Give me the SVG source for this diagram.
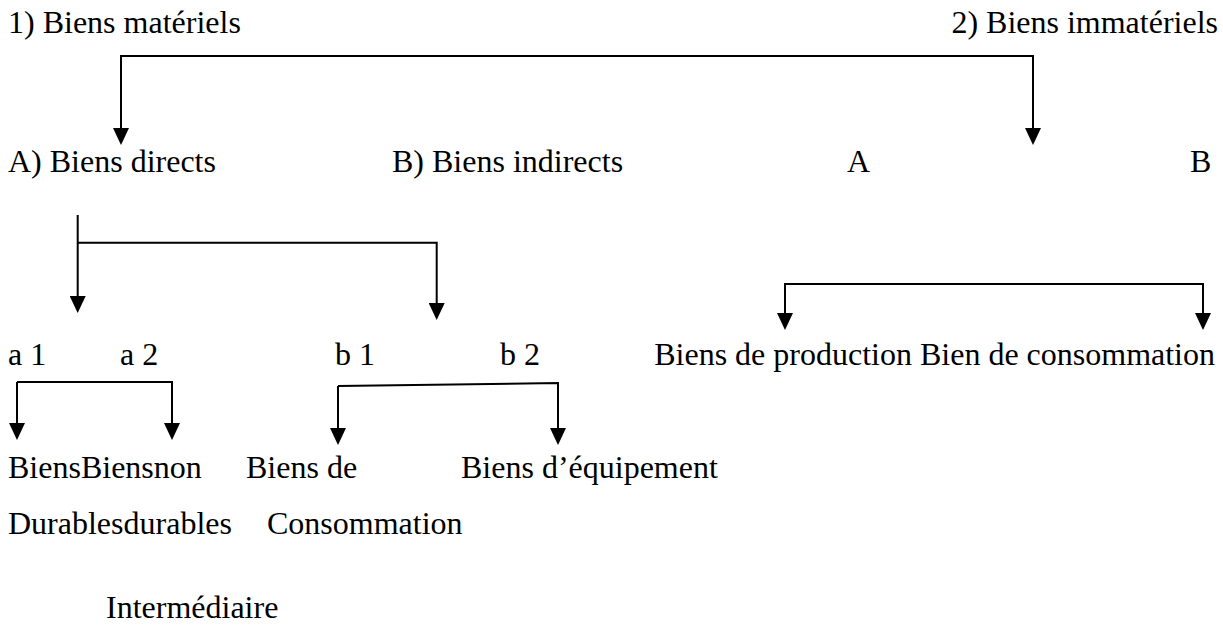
<svg xmlns="http://www.w3.org/2000/svg" width="1223" height="639" viewBox="0 0 1223 639">
  <style>
    text { font-family: "Liberation Serif", "Times New Roman", serif; font-size: 32px; fill: #000; }
    .end { text-anchor: end; }
    .link { fill: none; stroke: #000; stroke-width: 2; marker-end: url(#tip); }
  </style>
  <defs>
    <marker id="tip" viewBox="0 0 17 16" refX="1" refY="8" markerWidth="17" markerHeight="16" markerUnits="userSpaceOnUse" orient="auto">
      <path d="M0,0 L17,8 L0,16 z" fill="#000"/>
    </marker>
  </defs>

  <!-- level 1 -->
  <g id="biens-materiels"><text x="8" y="33">1) Biens matériels</text></g>
  <g id="biens-immateriels"><text class="end" x="1218" y="33">2) Biens immatériels</text></g>

  <!-- level 2 -->
  <g id="biens-directs"><text x="8" y="172">A) Biens directs</text></g>
  <g id="biens-indirects"><text x="392" y="172">B) Biens indirects</text></g>
  <g id="immat-a"><text x="847" y="172">A</text></g>
  <g id="immat-b"><text x="1190" y="172">B</text></g>

  <!-- level 3 -->
  <g id="a1"><text x="8" y="365">a 1</text></g>
  <g id="a2"><text x="120" y="365">a 2</text></g>
  <g id="b1"><text x="335" y="365">b 1</text></g>
  <g id="b2"><text x="500" y="365">b 2</text></g>
  <g id="production-consommation"><text class="end" x="1215" y="365">Biens de production Bien de consommation</text></g>

  <!-- level 4 -->
  <g id="durables">
    <text x="8" y="478">BiensBiensnon</text>
    <text x="8" y="534">Durablesdurables</text>
  </g>
  <g id="consommation-intermediaire">
    <text x="246" y="478">Biens de</text>
    <text x="267" y="534">Consommation</text>
    <text x="106" y="618">Intermédiaire</text>
  </g>
  <g id="equipement"><text x="461" y="478">Biens d’équipement</text></g>

  <!-- connectors -->
  <g id="connectors">
    <path class="link" d="M577,56 H121 V129"/>
    <path class="link" d="M577,56 H1033 V129"/>

    <path class="link" d="M77.7,215 V297"/>
    <path class="link" d="M77.7,242.7 H436.7 V304"/>

    <path class="link" d="M994,284 H785 V314"/>
    <path class="link" d="M994,284 H1203 V314"/>

    <path class="link" d="M17,382 V424"/>
    <path class="link" d="M17,382 H172 V424"/>

    <path class="link" d="M338,386 V429"/>
    <path class="link" d="M338,386 L558,383 V429"/>
  </g>
</svg>
